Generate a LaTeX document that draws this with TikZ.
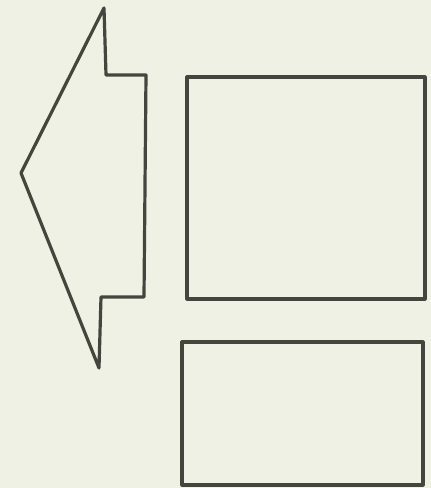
\documentclass[tikz,border=0pt]{standalone}
\usepackage{tikz}
\usetikzlibrary{positioning}
\definecolor{paper}{HTML}{EFF1E4}
\definecolor{ink}{HTML}{45453F}

\begin{document}
\begin{tikzpicture}[
  x=1pt,y=-1pt,
  outline/.style={draw=ink,line width=3.2pt,line join=round}
]

% ==================================================
% 背景
% ==================================================
\fill[paper] (0,0) rectangle (431,488);
\useasboundingbox (0,0) rectangle (431,488);

% 左向きの矢印
\draw[outline]
  (104,8) -- (106,75) -- (146,75) -- (144,297)
  -- (101,297) -- (99,368) -- (21,173) -- cycle;

% 上の四角
\draw[outline] (187,77) -- (425,77) -- (425,299) -- (187,299) -- cycle;

% 下の四角
\draw[outline] (182,342) -- (423,342) -- (423,485) -- (182,485) -- cycle;

\end{tikzpicture}
\end{document}
